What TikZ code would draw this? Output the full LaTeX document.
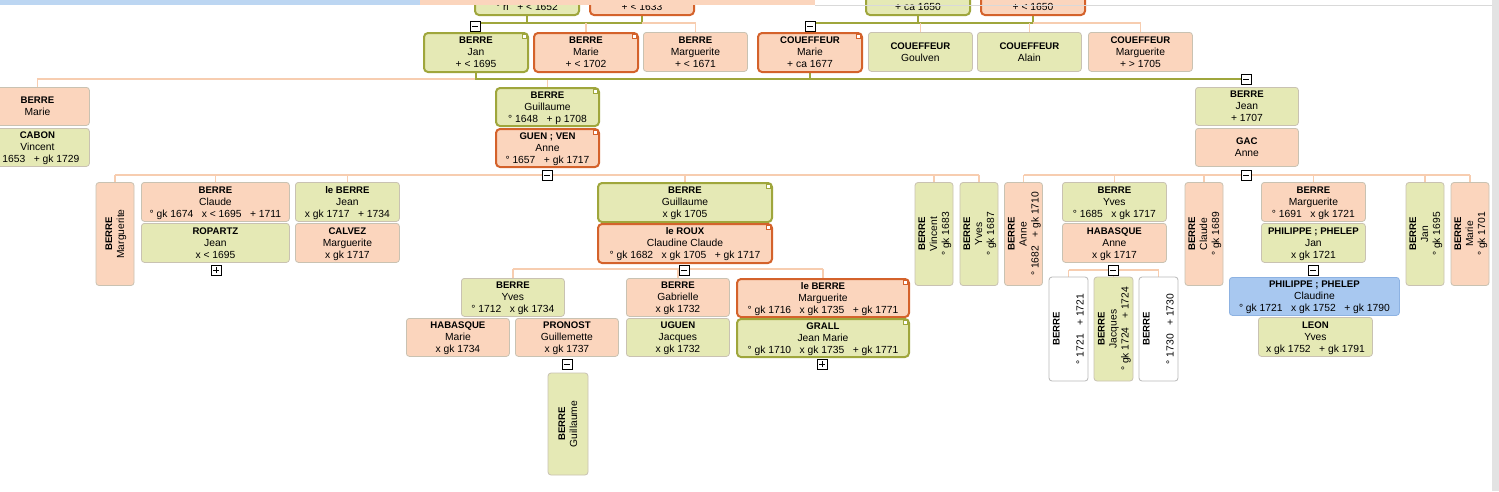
\documentclass[tikz,border=0pt]{standalone}
\usepackage{fontspec}
\setmainfont{Liberation Sans}
\usetikzlibrary{backgrounds}
\definecolor{gfill}{HTML}{E5E9B5}
\definecolor{pfill}{HTML}{FBD5BD}
\definecolor{olv}{HTML}{9FA63C}
\definecolor{org}{HTML}{D4622B}
\definecolor{thinb}{HTML}{C9C2B2}
\definecolor{pline}{HTML}{F7CDB0}
\definecolor{bfill}{HTML}{A8C8F0}
\definecolor{bbord}{HTML}{8DB2E2}
\definecolor{tbblue}{HTML}{BCD6F2}
\newcommand\pp[3]{\begin{tabular}{@{}c@{}}\rule{0pt}{10pt}{\fontsize{9.6}{12}\selectfont\bfseries #1}\\#2\\#3\end{tabular}}
\newcommand\gp{\hspace{8.5pt}}
\begin{document}
\begin{tikzpicture}[x=1pt,y=-1pt,
 pbox/.style={rectangle, rounded corners=3pt, draw=thinb, line width=0.8pt, minimum width=104pt, minimum height=39pt, inner sep=0pt, anchor=north west, font=\fontsize{10.3}{12}\selectfont},
 gb/.style={pbox, fill=gfill},
 pb/.style={pbox, fill=pfill},
 wb/.style={pbox, fill=white, draw=gray!55},
 blb/.style={pbox, fill=bfill, draw=bbord},
 hol/.style={draw=olv, line width=2pt, rounded corners=4pt},
 hor/.style={draw=org, line width=2pt, rounded corners=4pt},
 vert/.style={rotate=90, anchor=center, minimum width=103pt, minimum height=38pt},
 tg/.style={draw=black, fill=white, line width=0.7pt, minimum size=10pt, inner sep=0pt,
   path picture={\draw[line width=0.8pt] ([xshift=-3pt]path picture bounding box.center) -- ([xshift=3pt]path picture bounding box.center);}},
 tgplus/.style={tg, path picture={\draw[line width=0.8pt] ([xshift=-3pt]path picture bounding box.center) -- ([xshift=3pt]path picture bounding box.center) ([yshift=-3pt]path picture bounding box.center) -- ([yshift=3pt]path picture bounding box.center);}},
 ol/.style={draw=olv, line width=2pt},
 th/.style={draw=pline, line width=1.5pt},
]
\useasboundingbox (0,0) rectangle (1499,491);
\clip (0,0) rectangle (1499,491);

% line levels
\coordinate (y23) at (0,23);
\coordinate (y79) at (0,79);
\coordinate (y175) at (0,175);
\coordinate (y269) at (0,269);
\coordinate (y270) at (0,270);

% row 0 (partial)
\node[gb, hol] (t1) at (474,-25) {\pp{}{}{° ri\gp{}+ < 1652}};
\node[pb, hor] (t2) at (589,-25) {\pp{}{}{+ < 1633}};
\node[gb, hol] (t3) at (865,-25) {\pp{}{}{+ ca 1650}};
\node[pb, hor] (t4) at (980,-25) {\pp{}{}{+ < 1650}};

% row 1
\node[gb, hol] (jan) at (423,32) {\pp{BERRE}{Jan}{+ < 1695}};
\node[pb, hor] (marie1) at (533,32) {\pp{BERRE}{Marie}{+ < 1702}};
\node[pb] (marg1) at (643,32) {\pp{BERRE}{Marguerite}{+ < 1671}};
\node[pb, hor] (mariec) at (757,32) {\pp{COUEFFEUR}{Marie}{+ ca 1677}};
\node[gb] (goulven) at (868,32) {\pp{COUEFFEUR}{Goulven}{}};
\node[gb] (alain) at (977,32) {\pp{COUEFFEUR}{Alain}{}};
\node[pb] (margc) at (1088,32) {\pp{COUEFFEUR}{Marguerite}{+ > 1705}};

% row 2
\node[pb, minimum height=38pt] (marie2) at (-15,87) {\pp{BERRE}{Marie}{}};
\node[gb, minimum height=38pt] (cabon) at (-15,128) {\pp{CABON}{Vincent}{° 1653\gp{}+ gk 1729}};
\node[gb, hol, minimum width=103pt, minimum height=38pt] (guil) at (495,87) {\pp{BERRE}{Guillaume}{° 1648\gp{}+ p 1708}};
\node[pb, hor, minimum width=103pt, minimum height=38pt] (anne) at (495,128) {\pp{GUEN ; VEN}{Anne}{° 1657\gp{}+ gk 1717}};
\node[gb, minimum width=103pt, minimum height=38pt] (jean) at (1195,87) {\pp{BERRE}{Jean}{+ 1707}};
\node[pb, minimum width=103pt, minimum height=38pt] (gac) at (1195,128) {\pp{GAC}{Anne}{}};

% row 3
\node[pb, vert] (margv) at (115,234) {\pp{BERRE}{Marguerite}{}};
\node[pb, minimum width=148pt] (claude) at (141,182) {\pp{BERRE}{Claude}{° gk 1674\gp{}x < 1695\gp{}+ 1711}};
\node[gb, minimum width=148pt] (ropartz) at (141,223) {\pp{ROPARTZ}{Jean}{x < 1695}};
\node[gb] (jeanlb) at (295,182) {\pp{le BERRE}{Jean}{x gk 1717\gp{}+ 1734}};
\node[pb] (calvez) at (295,223) {\pp{CALVEZ}{Marguerite}{x gk 1717}};
\node[gb, hol, minimum width=174pt] (guil2) at (597,182) {\pp{BERRE}{Guillaume}{x gk 1705}};
\node[pb, hor, minimum width=174pt] (roux) at (597,223) {\pp{le ROUX}{Claudine Claude}{° gk 1682\gp{}x gk 1705\gp{}+ gk 1717}};
\node[gb, vert] (vinc) at (934,234) {\pp{BERRE}{Vincent}{° gk 1683}};
\node[gb, vert] (yves1) at (979,234) {\pp{BERRE}{Yves}{° gk 1687}};
\node[pb, vert] (anne2) at (1023.5,234) {\pp{BERRE}{Anne}{° 1682\gp{}+ gk 1710}};
\node[gb] (yves2) at (1062,182) {\pp{BERRE}{Yves}{° 1685\gp{}x gk 1717}};
\node[pb] (haba) at (1062,223) {\pp{HABASQUE}{Anne}{x gk 1717}};
\node[pb, vert] (claude2) at (1204,234) {\pp{BERRE}{Claude}{° gk 1689}};
\node[pb] (marg2) at (1261,182) {\pp{BERRE}{Marguerite}{° 1691\gp{}x gk 1721}};
\node[gb] (phjan) at (1261,223) {\pp{PHILIPPE ; PHELEP}{Jan}{x gk 1721}};
\node[gb, vert] (jan2) at (1425,234) {\pp{BERRE}{Jan}{° gk 1695}};
\node[pb, vert] (marie3) at (1470,234) {\pp{BERRE}{Marie}{° gk 1701}};

% row 4
\node[gb, minimum width=103pt, minimum height=38pt] (yves3) at (461,278) {\pp{BERRE}{Yves}{° 1712\gp{}x gk 1734}};
\node[pb, minimum width=103pt, minimum height=38pt] (habm) at (406,318) {\pp{HABASQUE}{Marie}{x gk 1734}};
\node[pb, minimum width=103pt, minimum height=38pt] (pron) at (515,318) {\pp{PRONOST}{Guillemette}{x gk 1737}};
\node[pb, minimum width=103pt, minimum height=38pt] (gab) at (626,278) {\pp{BERRE}{Gabrielle}{x gk 1732}};
\node[gb, minimum width=103pt, minimum height=38pt] (uguen) at (626,318) {\pp{UGUEN}{Jacques}{x gk 1732}};
\node[pb, hor, minimum width=172pt, minimum height=38pt] (lbm) at (736,278) {\pp{le BERRE}{Marguerite}{° gk 1716\gp{}x gk 1735\gp{}+ gk 1771}};
\node[gb, hol, minimum width=172pt, minimum height=38pt] (grall) at (736,318) {\pp{GRALL}{Jean Marie}{° gk 1710\gp{}x gk 1735\gp{}+ gk 1771}};
\node[wb, vert, minimum width=104pt, minimum height=39pt] (w1) at (1068.5,329) {\pp{BERRE}{}{° 1721\gp{}+ 1721}};
\node[gb, vert, minimum width=104pt, minimum height=39pt] (jacq) at (1113.5,329) {\pp{BERRE}{Jacques}{° gk 1724\gp{}+ 1724}};
\node[wb, vert, minimum width=104pt, minimum height=39pt] (w2) at (1158.5,329) {\pp{BERRE}{}{° 1730\gp{}+ 1730}};
\node[blb, minimum width=170pt, minimum height=38pt] (claudine) at (1229,277) {\pp{PHILIPPE ; PHELEP}{Claudine}{° gk 1721\gp{}x gk 1752\gp{}+ gk 1790}};
\node[gb, minimum width=114pt, minimum height=39pt] (leon) at (1258,317) {\pp{LEON}{Yves}{x gk 1752\gp{}+ gk 1791}};

% row 5
\node[gb, vert, minimum width=102pt, minimum height=40pt] (guil3) at (568,424) {\pp{BERRE}{Guillaume}{}};

% toggles
\node[tg] (m1) at (475,26) {};
\node[tg] (m2) at (810,26) {};
\node[tg] (m3) at (1246,79) {};
\node[tg] (m4) at (547,175) {};
\node[tg] (m5) at (1246,175) {};
\node[tgplus] (p1) at (216,270) {};
\node[tg] (m6) at (684,270) {};
\node[tg] (m7) at (1113,270) {};
\node[tg] (m8) at (1313,270) {};
\node[tg] (m9) at (567,364) {};
\node[tgplus] (p2) at (822,364) {};

% corner flags
\foreach \n/\c in {jan/olv, marie1/org, mariec/org, guil/olv, anne/org, guil2/olv, roux/org, lbm/org, grall/olv}
  \draw[draw=\c, fill=white, line width=0.8pt] ([shift={(-7,2)}]\n.north east) rectangle ++(4,4);

% toolbar strip
\fill[tbblue] (0,0) rectangle (420,4.5);
\fill[pfill] (420,0) rectangle (815,4.5);
\draw[gray!30, line width=0.8pt] (815,5) -- (1499,5);
\fill[gray!22] (1492,0) rectangle (1499,491);

\begin{pgfonlayer}{background}
\fill[white] (0,0) rectangle (1499,491);
% top generation
\draw[ol] (t1.south) -- (t1.south |- y23);
\draw[ol] (t2.south) -- (t2.south |- y23);
\draw[ol] (m1 |- y23) -- (t2.south |- y23);
\draw[th] (t2.south |- y23) -- (marg1.north |- y23) -- (marg1.north);
\draw[th] (marie1.north |- y23) -- (marie1.north);
\draw[ol] (t3.south) -- (t3.south |- y23);
\draw[ol] (t4.south) -- (t4.south |- y23);
\draw[ol] (m2 |- y23) -- (t4.south |- y23);
\draw[th] (goulven.north |- y23) -- (goulven.north);
\draw[th] (alain.north |- y23) -- (alain.north);
\draw[th] (t4.south |- y23) -- (margc.north |- y23) -- (margc.north);
% row 2 links
\draw[th] (marie2.north) -- (marie2.north |- y79) -- (jan.south |- y79);
\draw[th] (guil.north) -- (guil.north |- y79);
\draw[ol] (jan.south) -- (jan.south |- y79) -- (m3.center);
\draw[ol] (mariec.south) -- (mariec.south |- y79);
% row 3 links
\draw[th] (margv.east |- y175) -- (yves1.east |- y175);
\foreach \n in {margv, vinc, yves1} \draw[th] (\n.east) -- (\n.east |- y175);
\foreach \n in {claude, jeanlb, guil2} \draw[th] (\n.north) -- (\n.north |- y175);
\draw[th] (anne2.east |- y175) -- (marie3.east |- y175);
\foreach \n in {anne2, claude2, jan2, marie3} \draw[th] (\n.east) -- (\n.east |- y175);
\foreach \n in {yves2, marg2} \draw[th] (\n.north) -- (\n.north |- y175);
% row 4 links
\draw[th] (yves3.north |- y269) -- (lbm.north |- y269);
\foreach \n in {yves3, gab, lbm} \draw[th] (\n.north) -- (\n.north |- y269);
\draw[th] (w1.east |- y270) -- (w2.east |- y270);
\foreach \n in {w1, jacq, w2} \draw[th] (\n.east) -- (\n.east |- y270);
\end{pgfonlayer}
\end{tikzpicture}
\end{document}
